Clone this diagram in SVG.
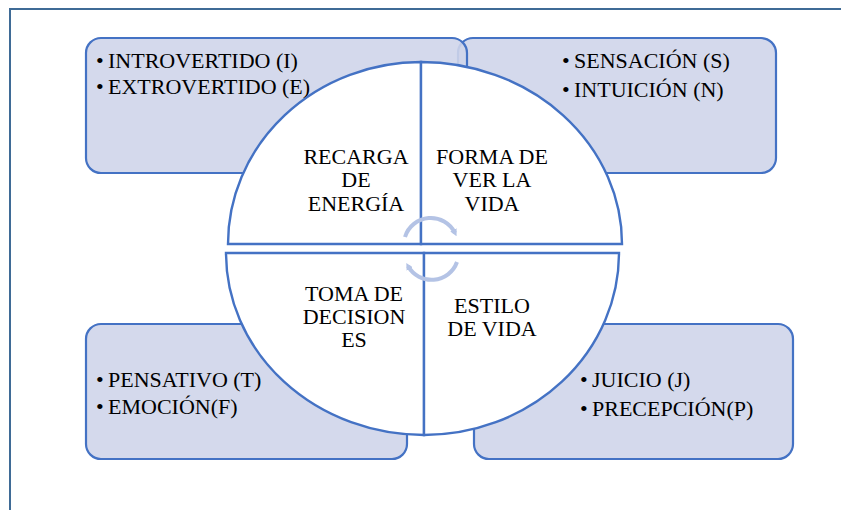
<svg xmlns="http://www.w3.org/2000/svg" width="841" height="510" viewBox="0 0 841 510">
<defs>
<style>
.frame{fill:none;stroke:#3f6b96;stroke-width:2}
.box{fill:#cfd5ea;fill-opacity:0.9;stroke:#4472c4;stroke-width:2.2}
.pie{fill:#ffffff;stroke:#4472c4;stroke-width:2.4;stroke-linejoin:miter}
.arr{fill:none;stroke:#b4c3e5;stroke-width:4}
text{font-family:"Liberation Serif","Times New Roman",Times,serif;font-size:22px;fill:#000000}
.c{text-anchor:middle}
</style>
<marker id="ah" viewBox="0 0 10 10" refX="5" refY="5" markerWidth="7" markerHeight="7" markerUnits="userSpaceOnUse" orient="auto">
<path d="M0,0 L10,5 L0,10 z" fill="#b4c3e5"/>
</marker>
</defs>
<rect class="frame" x="10" y="9" width="900" height="560"/>
<g id="box-sn">
<rect class="box" x="458" y="38" width="318" height="135" rx="15" ry="15"/>
<text y="68"><tspan x="562">•</tspan><tspan x="574">SENSACIÓN (S)</tspan></text>
<text y="97"><tspan x="562">•</tspan><tspan x="574">INTUICIÓN (N)</tspan></text>
</g>
<g id="box-ie">
<rect class="box" x="86" y="38" width="381" height="135" rx="15" ry="15"/>
<text y="68"><tspan x="96">•</tspan><tspan x="108">INTROVERTIDO (I)</tspan></text>
<text y="94"><tspan x="96">•</tspan><tspan x="108">EXTROVERTIDO (E)</tspan></text>
</g>
<g id="box-tf">
<rect class="box" x="86" y="324" width="321" height="135" rx="15" ry="15"/>
<text y="387"><tspan x="96">•</tspan><tspan x="108">PENSATIVO (T)</tspan></text>
<text y="414"><tspan x="96">•</tspan><tspan x="108">EMOCIÓN(F)</tspan></text>
</g>
<g id="box-jp">
<rect class="box" x="474" y="324" width="319" height="135" rx="15" ry="15"/>
<text y="387"><tspan x="580">•</tspan><tspan x="592">JUICIO (J)</tspan></text>
<text y="416"><tspan x="580">•</tspan><tspan x="592">PRECEPCIÓN(P)</tspan></text>
</g>
<g id="q-energia">
<path class="pie" d="M421 244 L228 244 A193 182 0 0 1 421 62 Z"/>
<text class="c" x="356" y="164">RECARGA</text>
<text class="c" x="356" y="187">DE</text>
<text class="c" x="356" y="211">ENERGÍA</text>
</g>
<g id="q-vida">
<path class="pie" d="M421 244 L421 62 A201 182 0 0 1 622 244 Z"/>
<text class="c" x="492" y="164">FORMA DE</text>
<text class="c" x="492" y="187">VER LA</text>
<text class="c" x="492" y="211">VIDA</text>
</g>
<g id="q-decisiones">
<path class="pie" d="M424 253 L424 435 A198 182 0 0 1 226 253 Z"/>
<text class="c" x="354" y="301">TOMA DE</text>
<text class="c" x="354" y="324">DECISION</text>
<text class="c" x="354" y="347">ES</text>
</g>
<g id="q-estilo">
<path class="pie" d="M424 253 L619 253 A195 182 0 0 1 424 435 Z"/>
<text class="c" x="492" y="313">ESTILO</text>
<text class="c" x="492" y="336">DE VIDA</text>
</g>
<g id="connectors">
<path class="arr" d="M405 237 A27 27 0 0 1 455 233" marker-end="url(#ah)"/>
<path class="arr" d="M457 262 A27 27 0 0 1 408 266" marker-end="url(#ah)"/>
</g>
</svg>
